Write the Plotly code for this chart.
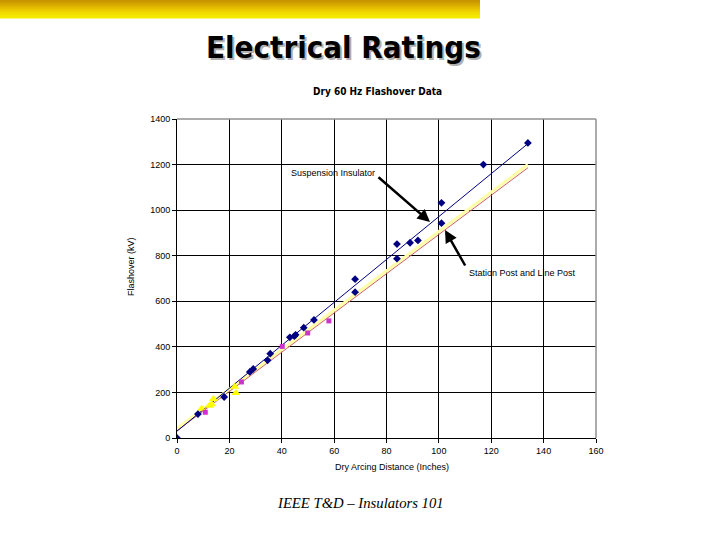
import plotly.graph_objects as go

# Suspension insulator data (dry arcing distance in, flashover kV)
susp_x = [0, 8, 18, 27.8, 29.1, 34.6, 35.6, 43.1, 44.8, 45.3, 48.4, 52.3, 68, 68, 84, 84, 89, 92, 101, 101, 117, 134]
susp_y = [0, 105, 180, 290, 303, 341, 370, 442, 447, 453, 484, 518, 640, 697, 787, 851, 857, 867, 943, 1032, 1200, 1295]

# Station post data
post_x = [10.8, 24.6, 40.2, 49.9, 58]
post_y = [113, 246, 402, 461, 514]

# Line post data
line_x = [9.4, 12.4, 13.2, 13.9, 22.0, 22.5]
line_y = [128, 142, 148, 171, 225, 197]

# Trendlines (endpoints)
susp_trend_x = [0, 134]
susp_trend_y = [30, 1292]
post_trend_x = [0, 134]
post_trend_y = [32, 1186]
line_trend_x = [0, 134]
line_trend_y = [42, 1200]

x_ticks = [0, 20, 40, 60, 80, 100, 120, 140, 160]
y_ticks = [0, 200, 400, 600, 800, 1000, 1200, 1400]

L, R, T, B = 177, 596, 119, 438
PW, PH = R - L, B - T


def px(x):
    return (x - L) / PW


def py(y):
    return (B - y) / PH


fig = go.Figure()
fig.add_trace(go.Scatter(x=line_trend_x, y=line_trend_y, mode="lines",
                         line=dict(color="#FFFFA8", width=3), hoverinfo="skip"))
fig.add_trace(go.Scatter(x=post_trend_x, y=post_trend_y, mode="lines",
                         line=dict(color="#D06060", width=1), hoverinfo="skip"))
fig.add_trace(go.Scatter(x=susp_trend_x, y=susp_trend_y, mode="lines",
                         line=dict(color="#000080", width=1), hoverinfo="skip"))
fig.add_trace(go.Scatter(x=line_x, y=line_y, mode="markers",
                         marker=dict(symbol="triangle-up", color="#FFFF00", size=8)))
fig.add_trace(go.Scatter(x=post_x, y=post_y, mode="markers",
                         marker=dict(symbol="square", color="#CC33CC", size=5)))
fig.add_trace(go.Scatter(x=susp_x, y=susp_y, mode="markers",
                         marker=dict(symbol="diamond", color="#000080", size=6)))

axis_font = dict(family="Liberation Sans, Arial, sans-serif", size=9, color="black")

shapes = []
top_colors = ["#C89400", "#CE9C00", "#D4A400", "#DAAC00", "#E0B600", "#E6C000",
              "#EAC800", "#EED200", "#F0DA00", "#F2E000", "#F4E600", "#F6EC00"]
n = len(top_colors)
for i in range(n):
    shapes.append(dict(type="rect", xref="paper", yref="paper",
                       x0=px(0), x1=px(480),
                       y0=py(18 * (i + 1) / n + 0.6), y1=py(18 * i / n - (0.5 if i == 0 else 0)),
                       fillcolor=top_colors[i], line=dict(width=0), layer="above"))
shapes.append(dict(type="line", xref="paper", yref="paper", x0=0, x1=1, y0=1, y1=1,
                   line=dict(color="#909090", width=1.5), layer="above"))
shapes.append(dict(type="line", xref="paper", yref="paper", x0=1, x1=1, y0=0, y1=1,
                   line=dict(color="#909090", width=1.5), layer="above"))

title_font = "DejaVu Sans Condensed, DejaVu Sans, sans-serif"


def txt(text, x, y, font, **kw):
    d = dict(text=text, x=px(x), y=py(y), xref="paper", yref="paper", showarrow=False,
             xanchor="center", yanchor="middle", font=font)
    d.update(kw)
    return d


def arrow(x_head, y_head, x_tail, y_tail):
    return dict(text="", x=px(x_head), y=py(y_head), xref="paper", yref="paper",
                ax=x_tail - x_head, ay=y_tail - y_head, axref="pixel", ayref="pixel",
                showarrow=True, arrowhead=2, arrowsize=1, arrowwidth=2.5,
                arrowcolor="black", standoff=0, startstandoff=0)


annotations = [
    txt("<b>Electrical Ratings</b>", 345, 49, dict(family=title_font, size=31, color="#B0B0B0")),
    txt("<b>Electrical Ratings</b>", 343, 47, dict(family=title_font, size=31, color="black")),
    txt("<b>Dry 60 Hz Flashover Data</b>", 377, 91,
        dict(family="DejaVu Sans Condensed, sans-serif", size=10, color="black")),
    txt("Flashover (kV)", 131, 267, axis_font, textangle=-90),
    txt("Dry Arcing Distance (Inches)", 392, 467, axis_font),
    txt("<i>IEEE T&amp;D – Insulators 101</i>", 360, 503,
        dict(family="Liberation Serif, Times New Roman, serif", size=14.7, color="black")),
    txt("Suspension Insulator", 333, 173, axis_font),
    arrow(430, 222, 377, 176),
    txt("Station Post and Line Post", 522, 273, axis_font),
    arrow(445, 230, 466, 267),
]

fig.update_layout(
    width=720, height=540,
    margin=dict(l=L, r=720 - R, t=T, b=540 - B),
    paper_bgcolor="white", plot_bgcolor="white",
    showlegend=False,
    shapes=shapes,
    annotations=annotations,
    xaxis=dict(range=[0, 160], tickvals=x_ticks, showgrid=True, gridcolor="black", gridwidth=1,
               showline=True, linecolor="black", linewidth=1, ticks="outside", ticklen=4,
               tickcolor="black", zeroline=False, tickfont=axis_font, fixedrange=True),
    yaxis=dict(range=[0, 1400], tickvals=y_ticks, showgrid=True, gridcolor="black", gridwidth=1,
               showline=True, linecolor="black", linewidth=1, ticks="outside", ticklen=4,
               tickcolor="black", zeroline=False, tickfont=axis_font, fixedrange=True),
)

fig.write_html("out.html")
